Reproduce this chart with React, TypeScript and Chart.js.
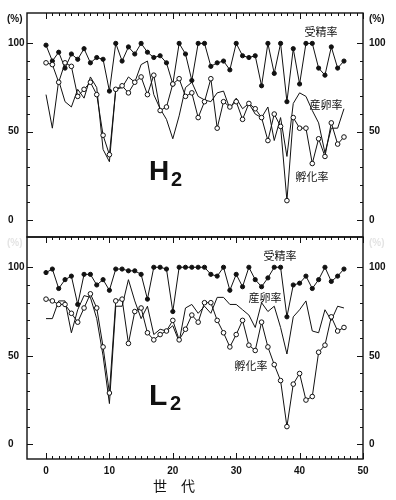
import React, { useEffect, useRef } from "react";
import { Chart, registerables } from "chart.js";
Chart.register(...registerables);

// generations (世代)
const generations = [0,1,2,3,4,5,6,7,8,9,10,11,12,13,14,15,16,17,18,19,20,21,22,23,24,25,26,27,28,29,30,31,32,33,34,35,36,37,38,39,40,41,42,43,44,45,46,47];

// H2 line
const h2Fert = [99,90,95,86,94,91,97,89,92,91,73,100,90,98,94,100,95,92,93,89,77,100,94,79,100,100,87,89,90,85,100,93,92,93,76,100,83,100,67,97,77,100,100,86,82,98,86,90];
const h2Spawn = [71,52,79,67,64,74,69,81,75,40,33,74,75,81,78,88,90,71,63,57,46,59,75,78,70,68,67,72,73,63,69,63,66,60,58,64,45,58,36,66,72,70,62,55,38,52,52,63];
const h2Hatch = [89,88,78,89,87,70,74,78,71,48,37,74,76,72,78,81,71,82,62,64,77,80,70,72,58,67,80,52,67,64,67,57,66,63,58,45,60,53,11,58,52,52,32,46,36,55,43,47];

// L2 line
const l2Fert = [97,99,88,93,95,79,96,96,90,93,87,99,99,98,98,96,82,100,100,99,75,100,100,100,100,100,96,95,100,87,96,89,100,93,89,94,100,100,72,90,91,95,88,93,100,92,95,99];
const l2Spawn = [71,71,81,81,63,76,84,83,71,50,23,78,78,93,81,71,78,62,65,64,67,58,77,79,74,78,74,83,83,79,79,76,73,66,80,75,78,66,51,72,76,81,64,63,76,70,78,77];
const l2Hatch = [82,81,79,79,74,69,77,85,77,55,29,81,82,57,75,77,63,59,62,64,70,59,65,73,69,80,80,70,63,55,62,70,56,53,69,55,45,36,10,34,40,25,27,52,56,72,64,66];

const xTickLabels = [0, 10, 20, 30, 40, 50];
const yTickLabels = [0, 50, 100];
const seriesNames = ["受精率", "産卵率", "孵化率"];
const xTitle = "世　代";

const pts = (ys: number[]) => generations.map((g, i) => ({ x: g, y: ys[i] }));

const framePlugin = {
  id: "frame",
  afterDraw(chart: any, _args: any, opts: any) {
    const { ctx, chartArea: a, scales } = chart;
    const xs = scales.x, ys = scales.y;
    const line = (x1: number, y1: number, x2: number, y2: number) => {
      ctx.beginPath(); ctx.moveTo(x1, y1); ctx.lineTo(x2, y2); ctx.stroke();
    };
    ctx.save();
    ctx.strokeStyle = "#111";
    ctx.lineWidth = 1.4;
    ctx.strokeRect(a.left, a.top, a.right - a.left, a.bottom - a.top);
    ctx.lineWidth = 1;
    for (let v = 0; v <= 50; v++) {
      const px = Math.round(xs.getPixelForValue(v)) + 0.5;
      const len = v % 10 === 0 ? 6 : 3;
      line(px, a.top, px, a.top + len);
      if (opts.bottomTicks) line(px, a.bottom, px, a.bottom - len);
    }
    for (let v = 0; v <= 100; v += 10) {
      const py = Math.round(ys.getPixelForValue(v)) + 0.5;
      const len = v % 50 === 0 ? 6 : 3;
      line(a.left, py, a.left + len, py);
      line(a.right, py, a.right - len, py);
    }
    ctx.fillStyle = "#111";
    ctx.font = "bold 10px 'Liberation Sans', Arial, sans-serif";
    ctx.textBaseline = "middle";
    ctx.textAlign = "left";
    for (const v of yTickLabels) {
      const py = ys.getPixelForValue(v);
      ctx.fillText(String(v), 8, py);
      ctx.fillText(String(v), a.right + 6, py);
    }
    // (%)
    ctx.fillStyle = opts.pctColor;
    ctx.fillText("(%)", 7, a.top + opts.pctDy);
    ctx.fillText("(%)", a.right + 6, a.top + opts.pctDy);
    ctx.fillStyle = "#111";
    if (opts.bottomTicks) {
      ctx.textAlign = "center";
      for (const v of xTickLabels) {
        ctx.fillText(String(v), xs.getPixelForValue(v), a.bottom + 12);
      }
      ctx.font = "14px 'Noto Sans CJK JP', sans-serif";
      ctx.fillText(xTitle, xs.getPixelForValue(20.2), a.bottom + 27);
    }
    // panel label
    ctx.textAlign = "left";
    ctx.textBaseline = "alphabetic";
    ctx.font = `bold ${opts.bigSize}px 'Liberation Sans', Arial, sans-serif`;
    ctx.fillText(opts.big, 149, opts.bigY);
    ctx.font = "bold 20px 'Liberation Sans', Arial, sans-serif";
    ctx.fillText("2", opts.subX, opts.bigY + opts.subDy);
    // series labels
    ctx.font = "11px 'Noto Sans CJK JP', sans-serif";
    ctx.textAlign = "center";
    ctx.textBaseline = "middle";
    opts.labels.forEach((p: number[], i: number) => {
      ctx.fillText(seriesNames[i], p[0], p[1]);
    });
    ctx.restore();
  },
};

function makeConfig(fert: number[], spawn: number[], hatch: number[], padding: any, yMin: number, yMax: number, frame: any): any {
  return {
    type: "line",
    data: {
      datasets: [
        { label: seriesNames[2], data: pts(hatch), order: 0, borderColor: "#111", borderWidth: 1, pointRadius: 2.3, pointBackgroundColor: "#fff", pointBorderColor: "#111", pointBorderWidth: 1, tension: 0 },
        { label: seriesNames[0], data: pts(fert), order: 1, borderColor: "#111", borderWidth: 1, pointRadius: 2.1, pointBackgroundColor: "#111", pointBorderColor: "#111", pointBorderWidth: 1, tension: 0 },
        { label: seriesNames[1], data: pts(spawn), order: 2, borderColor: "#111", borderWidth: 1, pointRadius: 0, tension: 0 },
      ],
    },
    options: {
      animation: false,
      responsive: false,
      events: [],
      layout: { padding },
      plugins: { legend: { display: false }, tooltip: { enabled: false }, frame },
      scales: {
        x: { type: "linear", min: -3, max: 50, display: false },
        y: { type: "linear", min: yMin, max: yMax, display: false },
      },
    },
    plugins: [framePlugin],
  };
}

export default function App() {
  const c1 = useRef<HTMLCanvasElement>(null);
  const c2 = useRef<HTMLCanvasElement>(null);
  useEffect(() => {
    const top = new Chart(c1.current!, makeConfig(h2Fert, h2Spawn, h2Hatch,
      { left: 27, right: 33, top: 13, bottom: 263 }, -9.6, 117.2,
      { bottomTicks: false, pctColor: "#111", pctDy: 6, big: "H", bigSize: 28, bigY: 180, subX: 171, subDy: 6,
        labels: [[321, 32], [326, 105], [312, 177]] }));
    const bottom = new Chart(c2.current!, makeConfig(l2Fert, l2Spawn, l2Hatch,
      { left: 27, right: 33, top: 237, bottom: 41 }, -8.3, 117.1,
      { bottomTicks: true, pctColor: "#e4e4e4", pctDy: 6, big: "L", bigSize: 30, bigY: 405, subX: 170, subDy: 5,
        labels: [[280, 256], [265, 298], [251, 366]] }));
    return () => { top.destroy(); bottom.destroy(); };
  }, []);
  return (
    <div style={{ position: "fixed", left: 0, top: 0, width: 396, height: 500, background: "#fff" }}>
      <canvas ref={c1} width={396} height={500} style={{ position: "absolute", left: 0, top: 0, width: 396, height: 500 }} />
      <canvas ref={c2} width={396} height={500} style={{ position: "absolute", left: 0, top: 0, width: 396, height: 500 }} />
    </div>
  );
}
